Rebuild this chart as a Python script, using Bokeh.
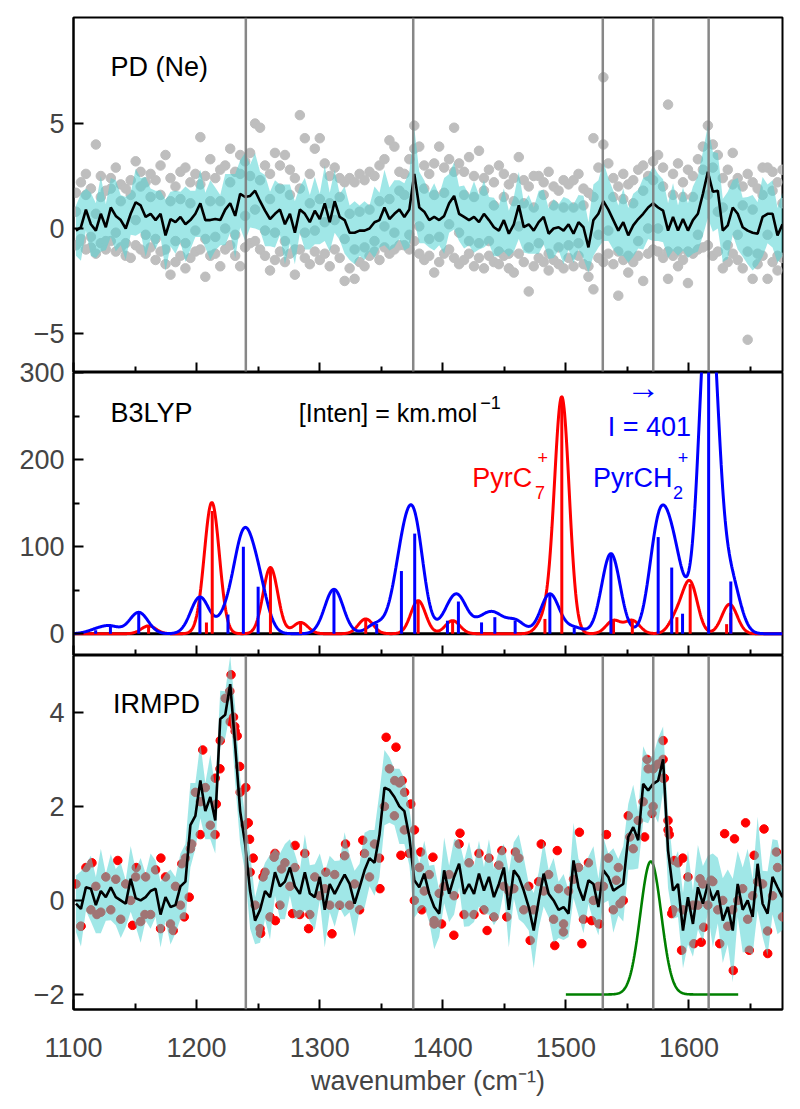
import numpy as np
from bokeh.plotting import figure
from bokeh.layouts import column
from bokeh.models import Span, Label, FixedTicker, Range1d, CustomLabelingPolicy
from bokeh.embed import file_html
from bokeh.resources import INLINE

FONT = "Liberation Sans"

# ---------------- data ----------------
# sampling grid of the measured spectra (cm-1)
wn = np.linspace(1102, 1676, 143)

# PD (Ne): averaged signal, band half-width, and individual scans
pd_mean = [-0.1, 0.06, 0.9, 0.2, -0.1, 0.7, 0.06, 1.0, 0.6, 0.4,
           0.0, 0.7, 1.25, 1.1, 0.55, 0.7, 0.4, 0.7, -0.33, 0.45,
           0.3, 0.55, 0.2, 0.4, 0.7, 1.2, 0.4, 0.4, 0.45, 0.4,
           0.9, 1.2, 0.6, 1.65, 1.5, 1.55, 1.8, 1.3, 0.85, 0.45,
           0.7, 0.9, 0.2, 0.7, -0.2, 0.9, 0.7, 0.3, 0.85, 0.45,
           1.2, 0.3, 1.3, 0.55, 0.4, -0.2, -0.2, -0.1, -0.1, 0.0,
           0.3, 0.4, 1.0, 0.45, 0.7, 0.9,
           0.55, 0.9, 2.6, 1.0, 0.8, 0.4, 0.55, 0.4, 0.6, 1.2,
           1.55, 0.7, 0.55, 0.4, 0.55, 0.3, 0.7, 0.4, 0.06, -0.1,
           0.4, -0.25, 0.2, 1.1, 0.06, 0.2, -0.1, 0.3, 0.55, -0.25,
           0.0, 0.06, -0.1, 0.2, -0.25, 0.3, 0.06, -0.9, 0.4, 0.7,
           1.3, 0.9, 0.4, -0.1, 0.3, -0.33, 0.15, 0.45, 0.7, 1.0,
           1.2, 1.0, 0.85, -0.1, 0.55, -0.1, 0.45, -0.1, 0.4, 0.7,
           1.65, 2.7, 1.75, 1.8, -0.1, 0.15, 1.0, 0.7, 0.06, -0.1,
           -0.2, -0.25, 0.55, 0.7, 0.7, -0.33, 0.2]
pd_err = [1.2, 1.6, 1.0, 1.5, 1.3, 1.8, 1.1, 1.4, 1.7, 1.2,
          1.5, 1.0, 1.6, 1.3, 1.9, 1.2, 1.4, 1.1, 1.7, 1.3,
          1.5, 1.2, 1.8, 1.4, 1.1, 1.6, 1.3, 1.9, 1.5, 1.2,
          1.7, 1.4, 2.0, 1.6, 2.1, 1.5, 1.8, 1.4, 1.7, 1.3,
          1.6, 1.2, 1.9, 1.4, 1.5, 1.1, 1.7, 1.3, 1.6, 1.2,
          1.8, 1.4, 1.5, 1.1, 1.6, 1.3, 1.5, 1.2, 1.4, 1.1,
          1.7, 1.3, 1.8, 1.5, 1.6, 1.4,
          1.6, 1.8, 2.2, 1.7, 1.5, 1.3, 1.6, 1.2, 1.8, 1.4,
          1.6, 1.3, 1.5, 1.2, 1.7, 1.3, 1.6, 1.1, 1.4, 1.2,
          1.5, 1.1, 1.3, 1.6, 1.2, 1.4, 1.1, 1.5, 1.3, 1.2,
          1.4, 1.1, 1.6, 1.2, 1.4, 1.3, 1.5, 1.2, 1.7, 1.6,
          1.9, 1.5, 1.4, 1.2, 1.6, 1.3, 1.5, 1.4, 1.7, 1.5,
          1.8, 1.6, 1.5, 1.3, 1.6, 1.2, 1.5, 1.3, 1.6, 1.8,
          2.0, 2.2, 1.9, 1.8, 1.5, 1.6, 1.3, 1.7, 1.4, 1.6,
          1.8, 1.5, 1.9, 1.4, 1.6, 1.3, 1.5]
pd_scan_hi = [1.7, 2.2, 2.6, 1.9, 4.0, 2.5, 1.8, 2.4, 2.9, 2.1,
              1.9, 2.3, 3.2, 2.7, 2.2, 2.6, 2.3, 3.0, 3.5, 2.4,
              2.0, 2.7, 2.9, 2.2, 2.6, 4.35, 2.5, 3.3, 2.4, 2.8,
              3.0, 3.8, 2.7, 3.5, 3.2, 3.6, 5.0, 4.8, 3.0, 2.6,
              3.6, 3.0, 3.5, 2.8, 2.4, 5.4, 4.3, 2.6, 3.8, 4.3,
              3.1, 2.5, 2.9, 2.4, 2.2, 2.4, 2.2, 2.6, 2.3, 2.7,
              2.5, 3.0, 3.3, 4.2, 3.9, 2.7,
              2.6, 3.3, 4.9, 3.9, 3.0, 2.6, 3.1, 3.9, 2.9, 3.3,
              4.8, 3.1, 2.7, 3.4, 2.5, 3.7, 2.4, 2.8, 2.2, 3.0,
              2.6, 2.1, 2.4, 3.4, 2.3, 2.0, 2.5, 2.5, 2.2, 2.7,
              2.0, 1.8, 2.3, 2.1, 2.3, 2.6, 1.9, 1.7, 4.3, 2.9,
              7.2, 3.1, 2.4, 2.0, 2.6, 2.1, 2.3, 2.8, 3.0, 2.5,
              3.2, 3.5, 2.9, 5.9, 2.6, 3.1, 2.2, 2.8, 2.5, 3.3,
              3.9, 4.9, 4.0, 3.5, 2.4, 2.8, 3.6, 2.4, 2.0, 2.6,
              2.2, 1.9, 2.9, 2.9, 2.7, 2.2, 2.8]
pd_scan_mid = [0.8, -0.5, 1.6, -0.4, 0.7, 1.5, -0.6, 1.9, -0.2, 1.3,
               -0.7, 1.6, 0.4, 2.0, -0.3, 1.5, -0.5, 1.6, -1.0, 1.3,
               -0.6, 1.4, -0.7, 1.2, -0.1, 2.1, -0.5, 1.3, -0.4, 1.3,
               0.0, 2.2, -0.3, 2.6, 0.6, 2.5, 0.9, 2.3, -0.1, 1.4,
               -0.2, 1.9, -0.6, 1.6, -1.0, 1.9, -0.2, 1.2, -0.1, 1.4,
               0.3, 1.2, 0.4, 1.5, -0.5, 0.7, -1.0, 0.8, -0.9, 0.9,
               -0.6, 1.3, 0.1, 1.4, -0.2, 1.8,
               1.6, -0.3, 3.8, 0.1, 1.9, -0.5, 1.6, -0.4, 1.7, 0.2,
               2.7, -0.2, 1.6, -0.6, 1.5, -0.7, 1.8, -0.6, 1.1, -1.1,
               1.5, -1.2, 1.3, 0.1, 1.2, -0.9, 1.0, -0.7, 1.6, -1.2,
               1.1, -0.9, 1.0, -0.8, 1.0, -0.7, 1.1, -1.8, 1.5, -0.3,
               4.0, -0.1, 1.5, -1.1, 1.4, -1.3, 1.2, -0.6, 1.8, 0.0,
               2.3, 0.0, 2.0, -1.1, 1.6, -1.1, 1.5, -1.1, 1.5, -0.3,
               2.8, 1.6, 2.9, 0.8, 1.0, -0.8, 2.1, -0.3, 1.1, -1.1,
               0.9, -1.2, 1.6, -0.3, 1.8, -1.3, 1.2]
pd_scan_lo = [-0.8, -0.6, -1.0, -0.9, -1.2, -0.7, -1.0, -0.6, -1.1, -0.9,
              -1.3, -1.4, -0.8, -1.0, -1.2, -0.9, -1.5, -1.1, -1.7, -2.2,
              -1.6, -1.3, -1.9, -1.4, -1.1, -1.0, -2.3, -1.3, -1.2, -1.8,
              -1.0, -0.8, -1.3, -1.8, -0.9, -0.7, -0.6, -1.0, -1.3, -2.0,
              -1.5, -1.1, -1.6, -1.2, -2.2, -1.0, -1.4, -1.7, -1.1, -1.5,
              -1.2, -1.8, -1.0, -1.4, -2.5, -1.9, -2.4, -1.6, -1.8, -1.3,
              -1.1, -1.5, -0.9, -1.2, -1.0, -0.8,
              -0.8, -1.0, -0.6, -1.2, -1.5, -1.3, -2.1, -1.6, -1.2, -1.0,
              -1.4, -1.7, -1.5, -1.2, -1.8, -1.4, -1.9, -1.3, -1.6, -1.7,
              -1.3, -1.9, -2.1, -1.2, -1.6, -3.0, -1.8, -1.4, -1.6, -2.0,
              -1.5, -1.7, -1.9, -1.4, -1.8, -1.3, -1.7, -2.3, -2.9, -1.4,
              -1.6, -1.2, -1.7, -3.2, -1.5, -2.1, -1.6, -1.3, -2.5, -1.2,
              -1.0, -1.1, -1.4, -2.4, -1.3, -1.8, -1.5, -2.6, -1.2, -1.0,
              -0.9, -0.8, -1.3, -1.1, -1.9, -1.6, -1.2, -1.5, -1.9, -5.3,
              -2.4, -1.7, -1.3, -2.4, -1.6, -2.0, -1.4]

# B3LYP computed stick spectra (position cm-1, intensity km/mol)
pyrc7_pos = [1161, 1208, 1212.7, 1260, 1284.5, 1337.4, 1380, 1408, 1483, 1496.7,
             1538.7, 1554, 1590.2, 1601, 1630.6, 1634]
pyrc7_int = [9, 13, 141, 76, 13, 17, 38, 15, 17, 271,
             15, 15, 19, 57, 11, 24]
pyrch2_pos = [1118, 1130, 1153, 1202.7, 1225.5, 1238, 1250, 1311.6, 1346.3, 1366.4,
              1377.2, 1403.8, 1412.7, 1431.5, 1442.3, 1458.8, 1487, 1506.8, 1536.6, 1575,
              1586, 1594.8, 1616, 1634]
pyrch2_int = [4, 8, 24.5, 42, 22, 100, 54, 51, 11.5, 72,
              115, 15, 37, 13, 19, 15, 45.6, 7, 92, 111,
              76, 23, 401, 60]
pyrc7_sigma = 6.0      # Gaussian broadening (cm-1)
pyrch2_sigma = 7.5

# IRMPD: averaged signal, band half-width, individual points
ir_mean = [-0.07, -0.18, 0.28, 0.25, -0.1, 0.2, 0.07, 0.28, 0.07, 0.0,
           -0.07, 0.46, 0.05, 0.0, 0.07, 0.2, 0.25, -0.3, 0.07, -0.14,
           -0.1, 0.3, 0.4, 1.6, 1.8, 2.55, 1.9, 2.2, 1.7, 3.86,
           3.95, 4.6, 3.3, 1.9, 1.2, 0.2, -0.43, -0.2, 0.2, 0.07,
           0.6, 0.3, 0.4, 0.7, 0.3, 0.14, 0.6, 0.15, 0.07, 0.5,
           -0.2, 0.35, 0.14, 0.35, 0.55, 0.35, -0.07, 0.28, 0.64, 0.9,
           0.8, 1.4, 2.4, 2.35, 2.2, 2.0,
           1.9, 1.35, 0.43, 0.28, 0.57, 0.14, -0.14, -0.28, 0.64, 0.14,
           0.5, 0.78, 0.14, 0.35, 0.14, 0.57, 0.21, 0.5, 0.07, 0.35,
           0.7, -0.2, 0.64, 0.5, 0.21, -0.14, -0.64, 0.0, 0.57, 0.14,
           0.0, -0.2, -0.14, -0.28, 0.85, 0.28, 0.0, 0.43, 0.35, -0.14,
           0.64, 0.5, 0.21, 0.28, 0.35, 1.35, 1.56, 1.28, 2.48, 2.34,
           2.48, 2.55, 3.0, 1.06, 0.21, 0.35, -0.64, 0.07, -0.5, 0.28,
           -0.07, 0.35, 0.0, 0.21, -0.43, -0.14, -0.64, 0.35, -0.2, 0.0,
           -0.35, 0.78, -0.07, -0.28, 0.5, 0.28, 0.07]
ir_err = [0.6, 0.8, 0.5, 0.7, 0.6, 0.9, 0.5, 0.7, 0.6, 0.8,
          0.5, 0.7, 0.6, 0.9, 0.5, 0.8, 0.6, 0.7, 0.5, 0.8,
          0.6, 0.7, 0.8, 0.9, 0.7, 0.8, 0.6, 0.9, 0.7, 0.6,
          0.5, 0.6, 0.8, 0.7, 0.6, 0.8, 0.5, 0.7, 0.6, 0.9,
          0.5, 0.7, 0.8, 0.6, 0.7, 0.5, 0.8, 0.6, 0.7, 0.5,
          0.8, 0.6, 0.7, 0.5, 0.9, 0.6, 0.7, 0.5, 0.8, 0.6,
          0.7, 0.9, 0.8, 0.7, 0.6, 0.8,
          0.7, 0.6, 0.8, 0.5, 0.7, 0.6, 0.9, 0.5, 0.7, 0.6,
          0.8, 0.5, 0.7, 0.9, 0.6, 0.7, 0.5, 0.8, 0.6, 0.7,
          0.5, 0.8, 0.6, 0.9, 0.7, 0.5, 0.8, 0.6, 0.7, 0.5,
          0.9, 0.6, 0.7, 0.5, 0.8, 0.6, 0.7, 0.5, 0.8, 0.6,
          0.7, 0.5, 0.9, 0.6, 0.8, 0.7, 0.9, 0.6, 0.8, 0.7,
          0.6, 0.9, 0.7, 0.8, 0.6, 0.7, 0.8, 1.0, 0.7, 0.9,
          0.8, 0.6, 1.0, 0.7, 0.9, 0.8, 1.1, 0.7, 0.9, 1.1,
          0.8, 1.0, 0.7, 0.9, 0.8, 1.0, 0.7]
ir_core = [0.35, -0.55, 0.7, -0.2, 0.3, -0.25, 0.5, -0.2, 0.45, -0.4,
           0.35, 0.0, 0.5, -0.45, 0.5, -0.3, 0.65, -0.6, 0.5, -0.5,
           0.3, -0.1, 0.9, 1.1, 2.3, 2.1, 2.4, 1.6, 2.6, 3.4,
           4.3, 3.8, 3.6, 2.3, 1.6, 0.6, -0.1, -0.6, 0.6, -0.35,
           1.0, -0.1, 0.8, 0.3, 0.7, -0.3, 1.0, -0.3, 0.5, 0.1,
           0.25, -0.1, 0.55, -0.1, 0.95, -0.1, 0.35, -0.2, 1.0, 0.5,
           1.2, 0.9, 2.0, 2.8, 1.8, 2.5,
           1.5, 1.0, 0.0, 0.7, 0.2, 0.55, -0.5, 0.15, 0.3, 0.55,
           0.1, 1.2, -0.3, 0.8, -0.3, 1.0, -0.2, 0.9, -0.35, 0.75,
           0.3, 0.2, 0.25, 0.9, -0.2, 0.3, -0.2, 0.4, 0.2, 0.55,
           -0.4, 0.25, -0.5, 0.2, 0.45, 0.7, -0.4, 0.8, 0.0, 0.3,
           0.3, 0.9, -0.2, 0.7, 0.0, 1.8, 1.1, 1.7, 2.1, 2.8,
           2.0, 2.9, 2.6, 1.5, -0.2, 0.8, -0.2, 0.5, -0.1, -0.1,
           0.35, -0.1, 0.4, -0.2, 0.0, -0.55, -0.2, 0.0, 0.25, -0.4,
           0.1, 0.4, 0.35, -0.65, 0.1, 0.7, -0.35]
ir_pt_wn = [1106, 1115, 1119, 1136, 1148, 1151, 1158, 1171, 1181, 1188,
            1190, 1194, 1196, 1203, 1205, 1215, 1216, 1219, 1227, 1228,
            1230, 1231, 1233, 1235, 1240, 1242, 1243, 1246, 1252, 1254,
            1263, 1264, 1269, 1278, 1280, 1291, 1305, 1310, 1321, 1335,
            1349, 1354, 1361, 1362, 1366, 1367, 1369, 1374, 1377, 1382,
            1383, 1392, 1393, 1399, 1409, 1414, 1436, 1448, 1452, 1459,
            1471, 1480, 1491, 1493, 1498, 1511, 1513, 1521, 1527, 1533,
            1541, 1544, 1552, 1564, 1566, 1570, 1571, 1579, 1579, 1580,
            1583, 1584, 1586, 1588, 1594, 1595, 1604, 1609, 1610, 1612,
            1618, 1625, 1629, 1636, 1637, 1646, 1649, 1653, 1661, 1664,
            1671]
ir_pt_val = [-0.55, 0.8, -0.3, 0.85, -0.53, 0.7, -0.3, 0.9, -0.64, 0.78,
             -0.35, 0.07, 1.2, 1.4, 3.2, 1.4, 2.05, 2.8, 4.45, 4.8,
             3.9, 3.7, 3.5, 2.85, 2.4, 1.65, 1.3, 0.9, -0.7, 0.5,
             0.92, -0.43, 0.67, -0.28, 1.17, -0.6, 0.6, -0.71, 1.2, 1.28,
             0.25, 3.47, 2.55, 3.26, 0.96, 2.55, 2.3, 2.05, 1.5, 1.03,
             -0.2, 0.92, -0.43, -0.5, -0.74, 1.43, -0.64, 1.06, -0.35, 1.03,
             -0.85, 1.2, -0.96, 1.06, -0.67, 1.45, -0.92, -0.43, -0.5, 1.4,
             0.43, -0.07, 1.35, 1.35, 3.0, 1.85, 2.8, 3.4, 3.0, 2.6,
             1.7, 1.4, -0.28, 0.85, -1.06, 0.9, -0.92, 0.46, -0.89, -0.57,
             0.43, -0.92, 1.42, -1.49, 1.31, 1.65, -1.06, 0.96, 1.52, -1.13,
             1.03]

# laser profile (Gaussian) drawn at the bottom of the IRMPD panel
laser_center = 1569.0
laser_fwhm = 20.0
laser_height = 2.83
laser_base = -2.0
laser_span = (1500.0, 1640.0)

# reference wavenumbers marked by vertical lines
marker_wn = [1240, 1376, 1530, 1571, 1616]

x_major = [1100, 1200, 1300, 1400, 1500, 1600]
x_minor = [1150, 1250, 1350, 1450, 1550, 1650]

# ---------------- helpers ----------------
xr = Range1d(1100, 1676)
CYAN = "#52D4D4"
GRAY_DOT = "#BEBEBE"


def make_fig(frame_h, y0, y1, top, bottom=0):
    p = figure(frame_width=709, frame_height=frame_h, x_range=xr,
               y_range=Range1d(y0, y1), output_backend="svg",
               toolbar_location=None, min_border_left=73, min_border_right=10,
               min_border_top=top, min_border_bottom=bottom,
               border_fill_color=None)
    p.grid.visible = False
    p.outline_line_color = "black"
    p.outline_line_width = 2
    p.outline_line_alpha = 1
    return p


def style_x(p, labels):
    ax = p.xaxis[0]
    ax.ticker = FixedTicker(ticks=x_major, minor_ticks=x_minor)
    ax.major_tick_in = 10
    ax.major_tick_out = 0
    ax.minor_tick_in = 6
    ax.minor_tick_out = 0
    ax.major_tick_line_width = 2
    ax.minor_tick_line_width = 2
    ax.axis_line_width = 2
    ax.major_label_text_font = FONT
    if labels:
        ax.major_label_text_font_size = "27px"
        ax.major_label_standoff = 28
    else:
        ax.major_label_text_font_size = "0px"
        ax.major_label_standoff = 0
        ax.major_label_policy = CustomLabelingPolicy(
            code="for (const i of Array.from(indices)) { indices.unset(i) }\nreturn indices")


def style_y(p, ticks, minor, overrides):
    ax = p.yaxis[0]
    ax.ticker = FixedTicker(ticks=ticks, minor_ticks=minor)
    ax.major_tick_in = 10
    ax.major_tick_out = 0
    ax.minor_tick_in = 6
    ax.minor_tick_out = 0
    ax.major_tick_line_width = 2
    ax.minor_tick_line_width = 2
    ax.axis_line_width = 2
    ax.major_label_text_font = FONT
    ax.major_label_text_font_size = "27px"
    ax.major_label_standoff = 9
    ax.major_label_overrides = overrides


def add_text(p, x, y, text, color="black", size="27px", baseline="alphabetic"):
    p.add_layout(Label(x=x, y=y, text=text, text_color=color, text_font=FONT,
                       text_font_size=size, text_baseline=baseline,
                       text_align="left"))


def add_markers(p):
    for m in marker_wn:
        p.add_layout(Span(location=m, dimension="height", line_color="#7a7a7a",
                          line_width=2.5, line_alpha=0.9))


# ---------------- panel 1: PD (Ne) ----------------
n1 = min(len(wn), len(pd_mean), len(pd_err), len(pd_scan_hi),
         len(pd_scan_mid), len(pd_scan_lo))
x1 = wn[:n1]
m1 = np.array(pd_mean[:n1])
e1 = np.array(pd_err[:n1])

p1 = make_fig(355, -6.86, 10.05, top=17)
for scan in (pd_scan_hi, pd_scan_lo, pd_scan_mid):
    p1.scatter(x1, scan[:n1], size=9.5, color=GRAY_DOT)
p1.varea(x=x1, y1=m1 - e1, y2=m1 + e1, fill_color=CYAN, fill_alpha=0.55)
p1.line(x1, m1, line_color="black", line_width=2.6)
add_markers(p1)
add_text(p1, 1130, 7.7, "PD (Ne)")
style_x(p1, labels=False)
style_y(p1, [-5, 0, 5], [], {-5: "\u22125", 0: "0", 5: "5"})

# ---------------- panel 2: B3LYP ----------------
xc = np.linspace(1100, 1676, 1400)


def broaden(pos, inten, sigma):
    y = np.zeros_like(xc)
    for c, a in zip(pos, inten):
        y += a * np.exp(-(xc - c) ** 2 / (2 * sigma ** 2))
    return y


p2 = make_fig(283, -25, 300, top=16)
p2.margin = (-16, 0, 0, 0)
p2.add_layout(Span(location=0, dimension="width", line_color="black",
                   line_width=3, level="underlay"))
p2.line(xc, broaden(pyrc7_pos, pyrc7_int, pyrc7_sigma), line_color="#FF0000", line_width=3)
p2.line(xc, broaden(pyrch2_pos, pyrch2_int, pyrch2_sigma), line_color="#0000FF", line_width=3)
p2.segment(x0=pyrc7_pos, y0=[0] * len(pyrc7_pos), x1=pyrc7_pos, y1=pyrc7_int,
           line_color="#FF0000", line_width=3)
p2.segment(x0=pyrch2_pos, y0=[0] * len(pyrch2_pos), x1=pyrch2_pos, y1=pyrch2_int,
           line_color="#0000FF", line_width=3)
add_text(p2, 1130, 254, "B3LYP")
add_text(p2, 1283, 253, "[Inten] = km.mol", size="25px")
add_text(p2, 1430.5, 266, "\u22121", size="18px")
add_text(p2, 1424, 179, "PyrC", color="#FF0000")
add_text(p2, 1477, 202, "+", color="#FF0000", size="18px")
add_text(p2, 1475, 162, "7", color="#FF0000", size="18px")
add_text(p2, 1522, 179, "PyrCH", color="#0000FF")
add_text(p2, 1591, 202, "+", color="#0000FF", size="18px")
add_text(p2, 1587, 162, "2", color="#0000FF", size="18px")
add_text(p2, 1549, 283, "\u2192", color="#0000FF", size="34px", baseline="middle")
add_text(p2, 1534, 237, "I = 401", color="#0000FF")
style_x(p2, labels=False)
style_y(p2, [0, 100, 200, 300], [50, 150, 250], {0: "0", 100: "100", 200: "200", 300: "300"})

# ---------------- panel 3: IRMPD ----------------
n3 = min(len(wn), len(ir_mean), len(ir_err), len(ir_core))
x3 = wn[:n3]
m3 = np.array(ir_mean[:n3])
e3 = np.array(ir_err[:n3])

p3 = make_fig(354, -2.32, 5.21, top=0)
p3.scatter(ir_pt_wn, ir_pt_val, size=8.5, color="#FF0000")
p3.scatter(x3, ir_core[:n3], size=8.5, color="#FF0000")
p3.varea(x=x3, y1=m3 - e3, y2=m3 + e3, fill_color=CYAN, fill_alpha=0.55)
p3.line(x3, m3, line_color="black", line_width=2.6)
xl = np.linspace(laser_span[0], laser_span[1], 300)
sig_l = laser_fwhm / (2 * np.sqrt(2 * np.log(2)))
p3.line(xl, laser_base + laser_height * np.exp(-(xl - laser_center) ** 2 / (2 * sig_l ** 2)),
        line_color="#008000", line_width=2.6)
add_markers(p3)
add_text(p3, 1132, 4.17, "IRMPD")
style_x(p3, labels=True)
p3.xaxis[0].axis_label = "wavenumber (cm\u207b\u00b9)"
p3.xaxis[0].axis_label_text_font = FONT
p3.xaxis[0].axis_label_text_font_size = "27px"
p3.xaxis[0].axis_label_text_font_style = "normal"
p3.xaxis[0].axis_label_standoff = 6
style_y(p3, [-2, 0, 2, 4], [], {-2: "\u22122", 0: "0", 2: "2", 4: "4"})

layout = column(p1, p2, p3, spacing=0)
open("out.html", "w").write(file_html(layout, INLINE))
